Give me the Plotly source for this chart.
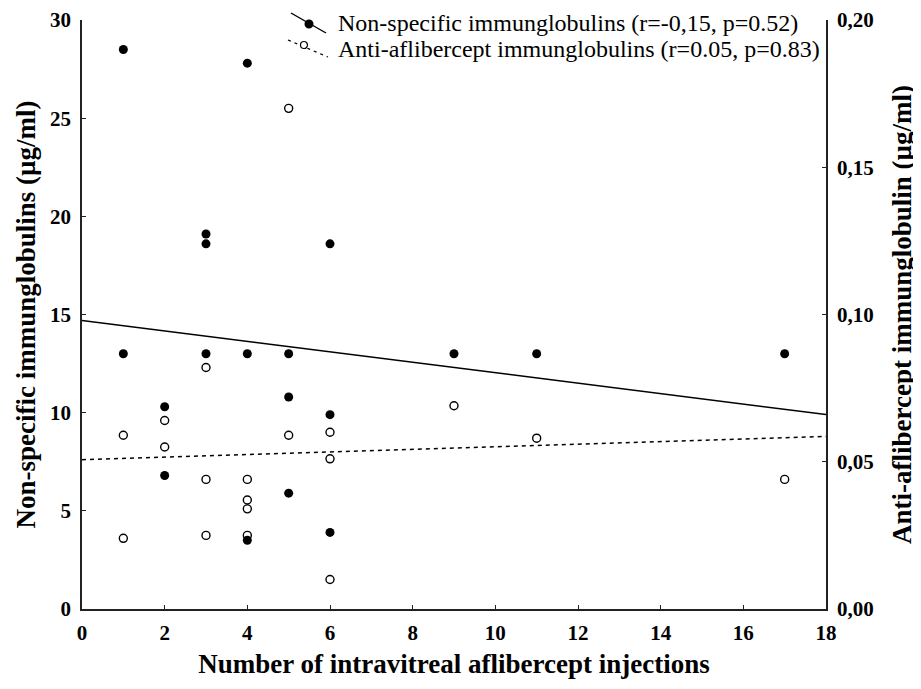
import plotly.graph_objects as go

# Non-specific immunoglobulins (µg/ml, left axis)
ns_x = [1, 1, 2, 2, 3, 3, 3, 4, 4, 4, 5, 5, 5, 6, 6, 6, 9, 11, 17]
ns_y = [28.5, 13.0, 10.3, 6.8, 19.1, 18.6, 13.0, 27.8, 13.0, 3.5, 13.0, 10.8, 5.9, 18.6, 9.9, 3.9, 13.0, 13.0, 13.0]

# Anti-aflibercept immunoglobulins (µg/ml, right axis)
aa_x = [1, 1, 2, 2, 3, 3, 3, 4, 4, 4, 4, 5, 5, 6, 6, 6, 9, 11, 17]
aa_y = [0.059, 0.024, 0.064, 0.055, 0.082, 0.044, 0.025, 0.044, 0.037, 0.034, 0.025, 0.170, 0.059, 0.060, 0.051, 0.010, 0.069, 0.058, 0.044]

# Regression lines
fit_x = [0, 18]
fit_ns = [14.7, 9.9]
fit_aa = [0.0507, 0.0586]

x_ticks = [0, 2, 4, 6, 8, 10, 12, 14, 16, 18]
left_ticks = [0, 5, 10, 15, 20, 25, 30]
right_ticks = [0.0, 0.05, 0.10, 0.15, 0.20]
right_ticktext = ["0,00", "0,05", "0,10", "0,15", "0,20"]

legend_labels = ["Non-specific immunglobulins (r=-0,15, p=0.52)",
                 "Anti-aflibercept immunglobulins (r=0.05, p=0.83)"]

FONT = "Liberation Serif, Times New Roman, serif"
AX = "#222222"
OFF = 8  # page body margin
W, H = 921 - OFF, 689 - OFF
ML, MR, MT, MB = 82 - OFF, 95, 20 - OFF, 80
PW, PH = W - ML - MR, H - MT - MB


def px(xs):  # screen pixel -> paper x
    return (xs - OFF - ML) / PW


def py(ys):  # screen pixel -> paper y
    return (OFF + MT + PH - ys) / PH


fig = go.Figure()

fig.add_trace(go.Scatter(
    x=ns_x, y=ns_y, mode="markers", yaxis="y",
    marker=dict(symbol="circle", size=9, color="black", line=dict(width=0)),
    showlegend=False,
))
fig.add_trace(go.Scatter(
    x=aa_x, y=aa_y, mode="markers", yaxis="y2",
    marker=dict(symbol="circle-open", size=8, color="black", line=dict(width=1.4)),
    showlegend=False,
))
fig.add_trace(go.Scatter(
    x=fit_x, y=fit_ns, mode="lines", yaxis="y",
    line=dict(color="black", width=1.5), showlegend=False,
))
fig.add_trace(go.Scatter(
    x=fit_x, y=fit_aa, mode="lines", yaxis="y2",
    line=dict(color="black", width=1.5, dash="4px,4px"), showlegend=False,
))

# manual legend (slanted symbol lines as in the reference)
shapes = [
    dict(type="line", xref="paper", yref="paper",
         x0=px(291), y0=py(13), x1=px(326), y1=py(33),
         line=dict(color="black", width=1.4)),
    dict(type="circle", xref="paper", yref="paper", xsizemode="pixel", ysizemode="pixel",
         xanchor=px(309), yanchor=py(24), x0=-4.5, x1=4.5, y0=-4.5, y1=4.5,
         fillcolor="black", line=dict(color="black", width=0)),
    dict(type="line", xref="paper", yref="paper",
         x0=px(288), y0=py(40), x1=px(328), y1=py(57),
         line=dict(color="black", width=1.2, dash="3px,4px")),
    dict(type="circle", xref="paper", yref="paper", xsizemode="pixel", ysizemode="pixel",
         xanchor=px(304), yanchor=py(45), x0=-3.5, x1=3.5, y0=-3.5, y1=3.5,
         fillcolor="white", line=dict(color="black", width=1.2)),
]
annotations = [
    dict(text=legend_labels[0], xref="paper", yref="paper", x=px(336), y=py(23),
         xanchor="left", yanchor="middle", showarrow=False,
         font=dict(family=FONT, size=24, color="black")),
    dict(text=legend_labels[1], xref="paper", yref="paper", x=px(336), y=py(49),
         xanchor="left", yanchor="middle", showarrow=False,
         font=dict(family=FONT, size=24, color="black")),
]

fig.update_layout(
    width=W, height=H,
    margin=dict(l=ML, r=MR, t=MT, b=MB),
    paper_bgcolor="white", plot_bgcolor="white",
    font=dict(family=FONT, color="black"),
    showlegend=False,
    shapes=shapes,
    annotations=annotations,
    xaxis=dict(
        range=[0, 18], tickvals=x_ticks, ticks="inside", ticklen=4, tickcolor=AX,
        showline=True, linecolor=AX, linewidth=1.5, showgrid=False, zeroline=False,
        automargin=False, ticklabelstandoff=4,
        tickfont=dict(family=FONT, size=21, color="black", weight="bold"),
        title=dict(text="Number of intravitreal aflibercept injections",
                   font=dict(family=FONT, size=27, color="black", weight="bold"),
                   standoff=10),
    ),
    yaxis=dict(
        range=[0, 30], tickvals=left_ticks, ticks="inside", ticklen=4, tickcolor=AX,
        showline=True, linecolor=AX, linewidth=1.5, showgrid=False, zeroline=False,
        automargin=False, ticklabelstandoff=5,
        tickfont=dict(family=FONT, size=21, color="black", weight="bold"),
        title=dict(text="Non-specific immunglobulins (µg/ml)",
                   font=dict(family=FONT, size=27, color="black", weight="bold"),
                   standoff=7),
    ),
    yaxis2=dict(
        range=[0, 0.20], tickvals=right_ticks, ticktext=right_ticktext,
        overlaying="y", side="right", ticks="inside", ticklen=4, tickcolor=AX,
        showline=True, linecolor=AX, linewidth=1.5, showgrid=False, zeroline=False,
        automargin=False, ticklabelstandoff=5,
        tickfont=dict(family=FONT, size=21, color="black", weight="bold"),
        title=dict(text="Anti-aflibercept immunglobulin (µg/ml)",
                   font=dict(family=FONT, size=27, color="black", weight="bold"),
                   standoff=19),
    ),
)

fig.write_html("out.html")
